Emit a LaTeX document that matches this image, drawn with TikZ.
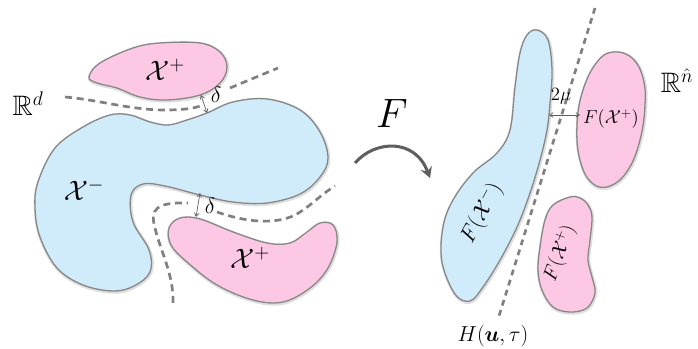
\RequirePackage{fix-cm}
\documentclass[tikz,border=0pt]{standalone}
\usepackage{amsmath,amssymb,bm}
\usetikzlibrary{arrows.meta}
\definecolor{blobblue}{RGB}{208,236,251}
\definecolor{blobpink}{RGB}{252,200,228}
\definecolor{edgegray}{RGB}{135,135,135}
\definecolor{dashgray}{RGB}{128,128,128}
\definecolor{arrowgray}{RGB}{95,95,95}
\tikzset{
  blobshadow/.style={preaction={draw=black, draw opacity=0.13, line width=3pt,
     transform canvas={shift={(0.5pt,-0.8pt)}}}},
  blueblob/.style={blobshadow, fill=blobblue, draw=edgegray, line width=1.1pt},
  pinkblob/.style={blobshadow, fill=blobpink, draw=edgegray, line width=1.1pt},
  sepline/.style={draw=dashgray, line width=2.3pt, dash pattern=on 6pt off 4pt},
  sepline2/.style={draw=dashgray, line width=2.3pt, dash pattern=on 5pt off 4pt},
  gaparrow/.style={draw=arrowgray, line width=0.6pt, {Straight Barb[length=3pt,width=4pt]}-{Straight Barb[length=3pt,width=4pt]}},
  biglabel/.style={inner sep=0pt, font=\fontsize{24}{28}\selectfont},
  smalllabel/.style={inner sep=0pt, font=\fontsize{16}{19}\selectfont},
  deltalabel/.style={inner sep=0pt, font=\fontsize{19}{22}\selectfont},
}
\begin{document}
\begin{tikzpicture}[x=0.03cm, y=-0.03cm]
\useasboundingbox (0,0) rectangle (698,349);

% left big blue blob X^-
\draw[blueblob] plot[smooth cycle, tension=0.6] coordinates {
 (38,182) (55,148) (83,127) (110,115) (130,115) (150,122) (168,125) (187,120)
 (207,113) (233,102) (267,99) (300,110) (320,132) (328,158) (320,177) (300,194)
 (267,203) (233,202) (200,195) (165,186) (143,184) (131,195) (133,222) (149,250)
 (150,272) (134,286) (113,291) (83,285) (57,268) (40,237) (35,208)};

% top pink blob X^+
\draw[pinkblob] plot[smooth cycle, tension=0.6] coordinates {
 (89,77) (100,63) (133,48) (160,43) (200,43) (220,52) (227,67) (220,83) (200,95)
 (167,100) (140,97) (117,88) (97,83)};

% bottom pink blob X^+
\draw[pinkblob] plot[smooth cycle, tension=0.6] coordinates {
 (169,228) (180,218) (200,219) (233,232) (267,243) (290,243) (307,232) (320,223)
 (333,225) (337,242) (328,268) (310,288) (283,302) (253,300) (217,285) (187,262)
 (171,245)};

% right blue blob F(X^-)
\draw[blueblob] plot[smooth cycle, tension=0.6] coordinates {
 (537,30) (548,40) (552,70) (550,103) (547,130) (540,160) (530,193) (517,227)
 (500,260) (483,287) (470,301) (455,294) (442,262) (443,227) (453,200)
 (473,173) (497,153) (510,130) (515,87) (520,53) (527,35)};

% right top pink oval F(X^+)
\draw[pinkblob] plot[smooth cycle, tension=0.7] coordinates {
 (613,52) (632,58) (643,78) (645,105) (640,140) (628,170) (610,186) (592,183)
 (580,160) (577,125) (583,90) (597,62)};

% right lower pink blob F(X^+)
\draw[pinkblob] plot[smooth cycle, tension=0.6] coordinates {
 (570,197) (553,205) (545,220) (540,247) (538,270) (542,290) (553,307) (570,312)
 (587,308) (595,293) (592,277) (588,260) (590,240) (592,217) (588,205) (580,198)};

% separating dashed curves (left)
\draw[sepline] (65,97) .. controls (100,100) and (130,110) .. (165,110)
  .. controls (185,110) and (195,108) .. (200,106);
\draw[sepline] (230,88) -- (278,68);
\draw[sepline] (173,303) .. controls (174,275) and (160,250) .. (155,228)
  .. controls (150,210) and (155,202) .. (188,203);
\draw[sepline] (217,212) .. controls (245,222) and (275,225) .. (295,215)
  .. controls (310,207) and (320,195) .. (335,186);

% separating hyperplane (right)
\draw[sepline2] (595,8) -- (499,316);

% gap arrows
\coordinate (d1a) at (201,95);
\coordinate (d1b) at (207,113);
\draw[gaparrow] (d1a) -- (d1b);
\coordinate (d2a) at (200,193);
\coordinate (d2b) at (196,217);
\draw[gaparrow] (d2a) -- (d2b);
\coordinate (m1) at (549,115);
\coordinate (m2) at (580,115);
\draw[gaparrow] (m1) -- (m2);

% mapping arrow F
\coordinate (fa) at (355,163);
\coordinate (fb) at (430,178);
\draw[draw=arrowgray, line width=2.6pt, -{Stealth[length=9pt,width=10pt]}]
  (fa) .. controls (375,140) and (415,138) .. (fb);

% labels
\node[biglabel] (xp1) at (165,70) {$\mathcal{X}^{+}$};
\node[biglabel] (xm) at (84,190) {$\mathcal{X}^{-}$};
\node[biglabel] (xp2) at (250,258) {$\mathcal{X}^{+}$};
\node[deltalabel] (del1) at (216,95) {$\delta$};
\node[deltalabel] (del2) at (210,206) {$\delta$};
\node[inner sep=0pt, font=\fontsize{24}{28}\selectfont] (rd) at (28,104) {$\mathbb{R}^{d}$};
\node[inner sep=0pt, font=\fontsize{24}{28}\selectfont] (rn) at (677,81) {$\mathbb{R}^{\hat{n}}$};
\node[inner sep=0pt, font=\fontsize{35}{40}\selectfont] (F) at (392,113) {$F$};
\node[smalllabel] (mu) at (561,96) {$2\mu$};
\node[smalllabel] (fxp1) at (611,119) {$F(\mathcal{X}^{+})$};
\node[inner sep=0pt, font=\fontsize{19}{22}\selectfont, rotate=62] (fxm) at (482,213) {$F(\mathcal{X}^{-})$};
\node[inner sep=0pt, font=\fontsize{17}{20}\selectfont, rotate=70] (fxp2) at (560,253) {$F(\mathcal{X}^{+})$};
\node[inner sep=0pt, font=\fontsize{18.5}{22}\selectfont] (H) at (493,336) {$H(\bm{u},\tau)$};
\end{tikzpicture}
\end{document}
